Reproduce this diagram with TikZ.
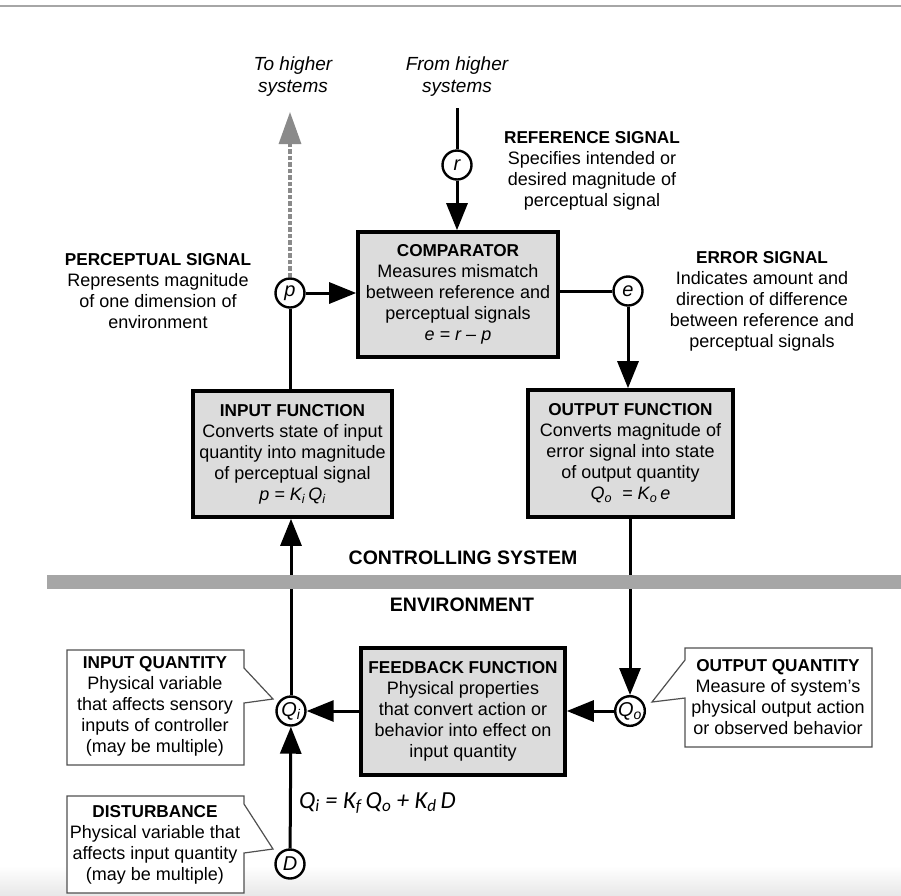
\documentclass[tikz,border=0pt]{standalone}
\usepackage{fontspec}
\setmainfont{Liberation Sans}
\newfontfamily\eqfont{Carlito}
\usetikzlibrary{arrows.meta,calc}
\definecolor{boxgray}{HTML}{DCDCDC}
\definecolor{bargray}{HTML}{A6A6A6}
\definecolor{dashgray}{HTML}{8A8A8A}
\definecolor{calloutline}{HTML}{505050}
\newcommand{\hd}[1]{{\fontsize{17.2}{21}\selectfont\bfseries #1}}
\begin{document}
\begin{tikzpicture}[x=1pt,y=-1pt,
  txt/.style={font=\fontsize{18}{21}\selectfont, align=center, inner sep=0pt},
  bigtxt/.style={font=\fontsize{19.5}{21}\selectfont\bfseries, align=center, inner sep=0pt},
  ital/.style={font=\fontsize{19}{22}\selectfont\itshape, align=center, inner sep=0pt},
  fbox/.style={draw, line width=3.6pt, fill=boxgray, align=center, inner sep=0pt,
               font=\fontsize{18}{21}\selectfont},
  sig/.style={circle, draw, line width=2.4pt, fill=white, minimum size=29pt,
              inner sep=0pt, font=\fontsize{20}{20}\selectfont\itshape},
  plain/.style={line width=3pt},
  conn/.style={line width=3pt, -{Triangle[length=27pt,width=21pt]}},
  dashedarrow/.style={line width=3.2pt, dashgray, dash pattern=on 4.5pt off 2pt,
                      -{Triangle[length=32pt,width=22pt]}},
  callout/.style={draw=calloutline, line width=1.2pt, fill=white},
]
\useasboundingbox (0,0) rectangle (901,895);
% page frame details
\shade[top color=white, bottom color=black!9] (0,866) rectangle (901,895);
\draw[line width=1.5pt, black!35] (0,6) -- (901,6);

% boxes
\node[fbox, minimum width=200pt, minimum height=125pt] (comp) at (458,294.5)
  {\hd{COMPARATOR}\\Measures mismatch\\between reference and\\perceptual signals\\\textit{e = r -- p}};
\node[fbox, minimum width=199pt, minimum height=126pt] (inf) at (292.5,454)
  {\hd{INPUT FUNCTION}\\Converts state of input\\quantity into magnitude\\of perceptual signal\\\textit{p = K\textsubscript{i}\,Q\textsubscript{i}}};
\node[fbox, minimum width=205pt, minimum height=127pt] (outf) at (630.5,453.5)
  {\hd{OUTPUT FUNCTION}\\Converts magnitude of\\error signal into state\\of output quantity\\\textit{Q\textsubscript{o}\ \ = K\textsubscript{o}\,e}};
\node[fbox, minimum width=204pt, minimum height=127pt] (fb) at (463,711.5)
  {\hd{FEEDBACK FUNCTION}\\Physical properties\\that convert action or\\behavior into effect on\\input quantity};

% signal circles
\node[sig] (r) at (457,165) {r};
\node[sig] (p) at (290,293) {p};
\node[sig] (e) at (628,291) {e};
\node[sig] (Qi) at (291,711) {Q\textsubscript{i}};
\node[sig] (Qo) at (630,711) {Q\textsubscript{o}};
\node[sig] (D) at (290,864) {D};

\coordinate (fromtop) at (457,108);
\coordinate (totop) at (290,112);

% connectors
\draw[plain] (fromtop) -- (r);
\draw[conn] (r) -- (r |- comp.north);
\draw[conn] (p) -- (p -| comp.west);
\draw[plain] (e -| comp.east) -- (e);
\draw[conn] (e) -- (e |- outf.north);
\draw[plain] (p |- inf.north) -- (p);
\draw[dashedarrow] (p) -- (totop);
\draw[conn] (Qi) -- (Qi |- inf.south);
\draw[conn] (Qo |- outf.south) -- (Qo);
\draw[conn] (Qo) -- (Qo -| fb.east);
\draw[conn] (fb.west |- Qi) -- (Qi);
\draw[conn] (D) -- (Qi);

% boundary bar
\fill[bargray] (47,575) rectangle (901,589);
\node[bigtxt] (ctrl) at (463,558) {CONTROLLING SYSTEM};
\node[bigtxt] (env) at (462,605) {ENVIRONMENT};

% top labels
\node[ital] (tohigher) at (293,77) {To higher\\systems};
\node[ital] (fromhigher) at (457,77) {From higher\\systems};

% signal descriptions
\node[txt] (refsig) at (592,171) {\hd{REFERENCE SIGNAL}\\Specifies intended or\\desired magnitude of\\perceptual signal};
\node[txt] (percsig) at (158,291) {\hd{PERCEPTUAL SIGNAL}\\Represents magnitude\\of one dimension of\\environment};
\node[txt] (errsig) at (762,301.5) {\hd{ERROR SIGNAL}\\Indicates amount and\\direction of difference\\between reference and\\perceptual signals};

% equation
\node[anchor=west, inner sep=0pt, font=\fontsize{24.5}{24.5}\selectfont\eqfont\itshape] (eq) at (299,803)
  {Q\textsubscript{i} = K\textsubscript{f}\,Q\textsubscript{o} + K\textsubscript{d}\,D};

% callouts
\coordinate (tipQi) at (273,699);
\coordinate (tipD) at (273,849);
\coordinate (tipQo) at (652,702);
\draw[callout] (67,650) -- (244,650) -- (244,668) -- (tipQi) -- (244,703) -- (244,765) -- (67,765) -- cycle;
\draw[callout] (67,796) -- (244,796) -- (244,804) -- (tipD) -- (244,853) -- (244,893) -- (67,893) -- cycle;
\draw[callout] (685,648) -- (872,648) -- (872,747) -- (685,747) -- (685,698) -- (tipQo) -- (685,660) -- cycle;
\node[txt] (inqty) at (155,706.5) {\hd{INPUT QUANTITY}\\Physical variable\\that affects sensory\\inputs of controller\\(may be multiple)};
\node[txt] (dist) at (155,845) {\hd{DISTURBANCE}\\Physical variable that\\affects input quantity\\(may be multiple)};
\node[txt] (outqty) at (778,697.5) {\hd{OUTPUT QUANTITY}\\Measure of system's\\physical output action\\or observed behavior};
\end{tikzpicture}
\end{document}
